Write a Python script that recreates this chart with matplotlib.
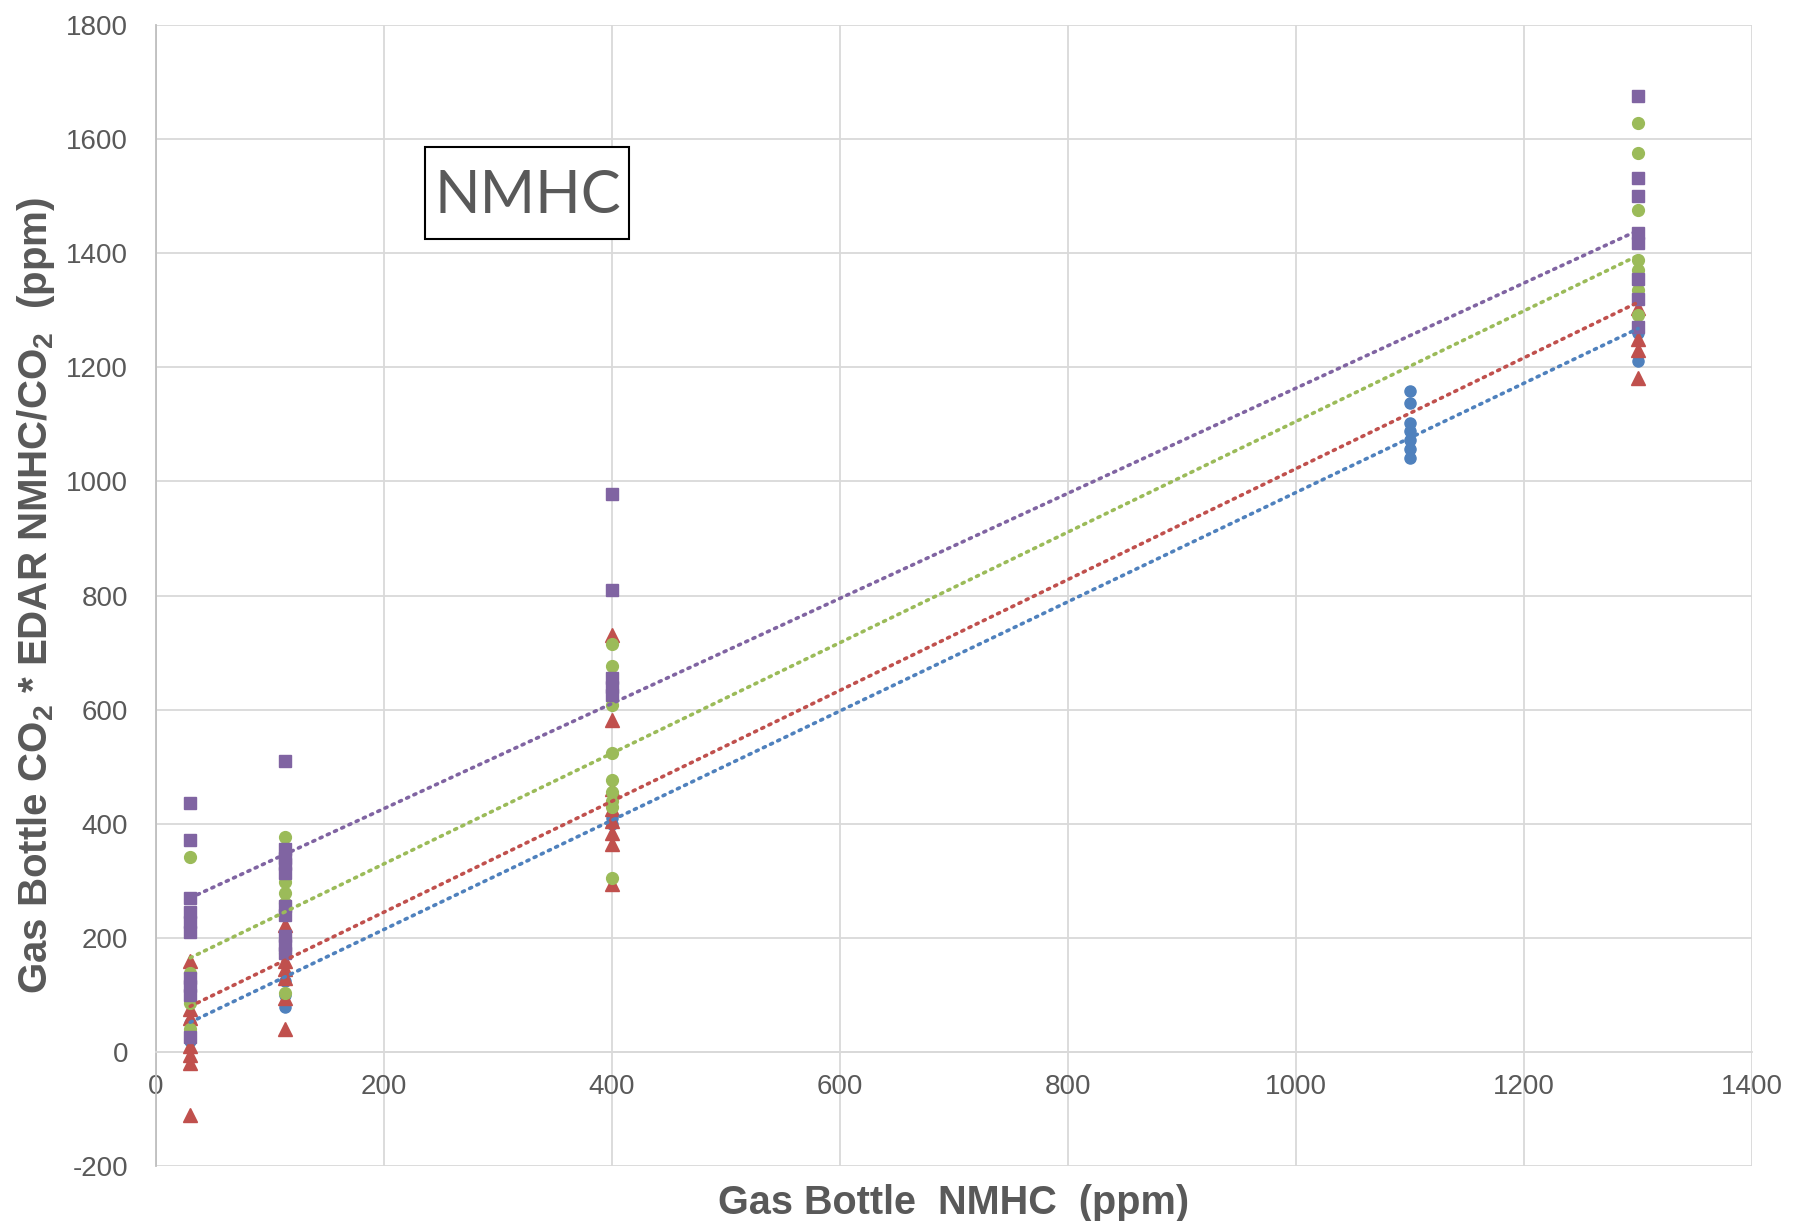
import numpy as np
import matplotlib
matplotlib.use("Agg")
import matplotlib.pyplot as plt
from matplotlib.patches import Rectangle

# readings taken off the chart (x = gas bottle NMHC, y = EDAR value)
blue_x = [30, 30, 30, 113, 113, 113, 400, 400,
          1100, 1100, 1100, 1100, 1100, 1100, 1100, 1300, 1300]
blue_y = [20, 35, 50, 78, 100, 125, 400, 410,
          1158, 1137, 1102, 1088, 1073, 1056, 1041, 1211, 1260]

red_x = [30] * 7 + [113] * 6 + [400] * 8 + [1300] * 4
red_y = [160, 75, 60, 10, -5, -20, -110,
         222, 160, 145, 130, 95, 40,
         730, 581, 461, 425, 405, 384, 365, 295,
         1304, 1249, 1231, 1182]

green_x = [30] * 4 + [113] * 6 + [400] * 9 + [1300] * 7
green_y = [341, 138, 86, 40,
           377, 298, 278, 261, 174, 104,
           715, 677, 609, 524, 477, 456, 440, 430, 305,
           1628, 1576, 1476, 1388, 1371, 1336, 1292]

purple_x = [30] * 10 + [113] * 10 + [400] * 5 + [1300] * 8
purple_y = [436, 372, 269, 245, 228, 210, 130, 115, 100, 26,
            510, 355, 340, 330, 313, 255, 240, 203, 188, 174,
            978, 809, 655, 640, 625,
            1675, 1532, 1500, 1436, 1418, 1355, 1319, 1270]

# trend line values read at x=30 and x=1300 (blue, red, green, purple)
trend_x = [30, 1300]
trend_start = [52, 80, 165, 270]
trend_end = [1268, 1314, 1396, 1440]

colors = ["#4F81BD", "#C0504D", "#9BBB59", "#8064A2"]
markers = ["o", "^", "o", "s"]
sizes = [8, 10.5, 8.5, 8.5]

x_ticks = [0, 200, 400, 600, 800, 1000, 1200, 1400]
y_ticks = [-200, 0, 200, 400, 600, 800, 1000, 1200, 1400, 1600, 1800]

txt = "#595959"
grid = "#D9D9D9"

plt.rcParams["axes.unicode_minus"] = False
plt.rcParams["mathtext.fontset"] = "custom"
plt.rcParams["mathtext.rm"] = "Liberation Sans:bold"

fig = plt.figure(figsize=(18.1, 12.21), dpi=100)
ax = fig.add_axes([0.0862, 0.045, 0.8818, 0.9345])

series = [(blue_x, blue_y), (red_x, red_y), (green_x, green_y), (purple_x, purple_y)]
for i, (xs, ys) in enumerate(series):
    ax.plot(xs, ys, linestyle="none", marker=markers[i], ms=sizes[i],
            color=colors[i], mec=colors[i], zorder=3 + i)

for i in range(4):
    ax.plot(trend_x, [trend_start[i], trend_end[i]], color=colors[i], lw=2.6,
            linestyle=(0, (0.6, 1.6)), dash_capstyle="round", zorder=8)

ax.set_xlim(0, 1400)
ax.set_ylim(-200, 1800)
ax.set_xticks(x_ticks)
ax.set_yticks(y_ticks)
ax.grid(True, color=grid, lw=1.3)
ax.set_axisbelow(True)

for s in ["top", "right"]:
    ax.spines[s].set_visible(False)
ax.spines["bottom"].set_position(("data", 0))
ax.spines["bottom"].set_color(grid)
ax.spines["bottom"].set_linewidth(1.3)
ax.spines["left"].set_color("#BFBFBF")
ax.spines["left"].set_linewidth(1.3)

ax.tick_params(length=0, labelsize=20, labelcolor=txt)
ax.tick_params(axis="y", pad=20)
ax.tick_params(axis="x", pad=16)
for lab in ax.get_xticklabels() + ax.get_yticklabels():
    lab.set_family(["Liberation Sans", "DejaVu Sans"])

ax.set_xlabel("Gas Bottle  NMHC  (ppm)", fontsize=28.5, fontweight="bold",
              color=txt, family=["Liberation Sans Narrow", "Liberation Sans"])
ax.xaxis.set_label_coords(0.5, -0.016)
ax.set_ylabel("Gas Bottle CO$_2$ * EDAR NMHC/CO$_2$  (ppm)", fontsize=29,
              fontweight="bold", color=txt,
              family=["Liberation Sans Narrow", "Liberation Sans"])
ax.yaxis.set_label_coords(-0.062, 0.5)

# text box in the upper left
ax.add_patch(Rectangle((0.1684, 0.8125), 0.128, 0.0809, transform=ax.transAxes,
                       fc="white", ec="black", lw=1.5, zorder=10))
ax.text(0.233, 0.850, "NMHC", transform=ax.transAxes, fontsize=43,
        color=txt, family=["Lato", "DejaVu Sans"], ha="center", va="center",
        zorder=11)

fig.savefig("out.png", dpi=100)
